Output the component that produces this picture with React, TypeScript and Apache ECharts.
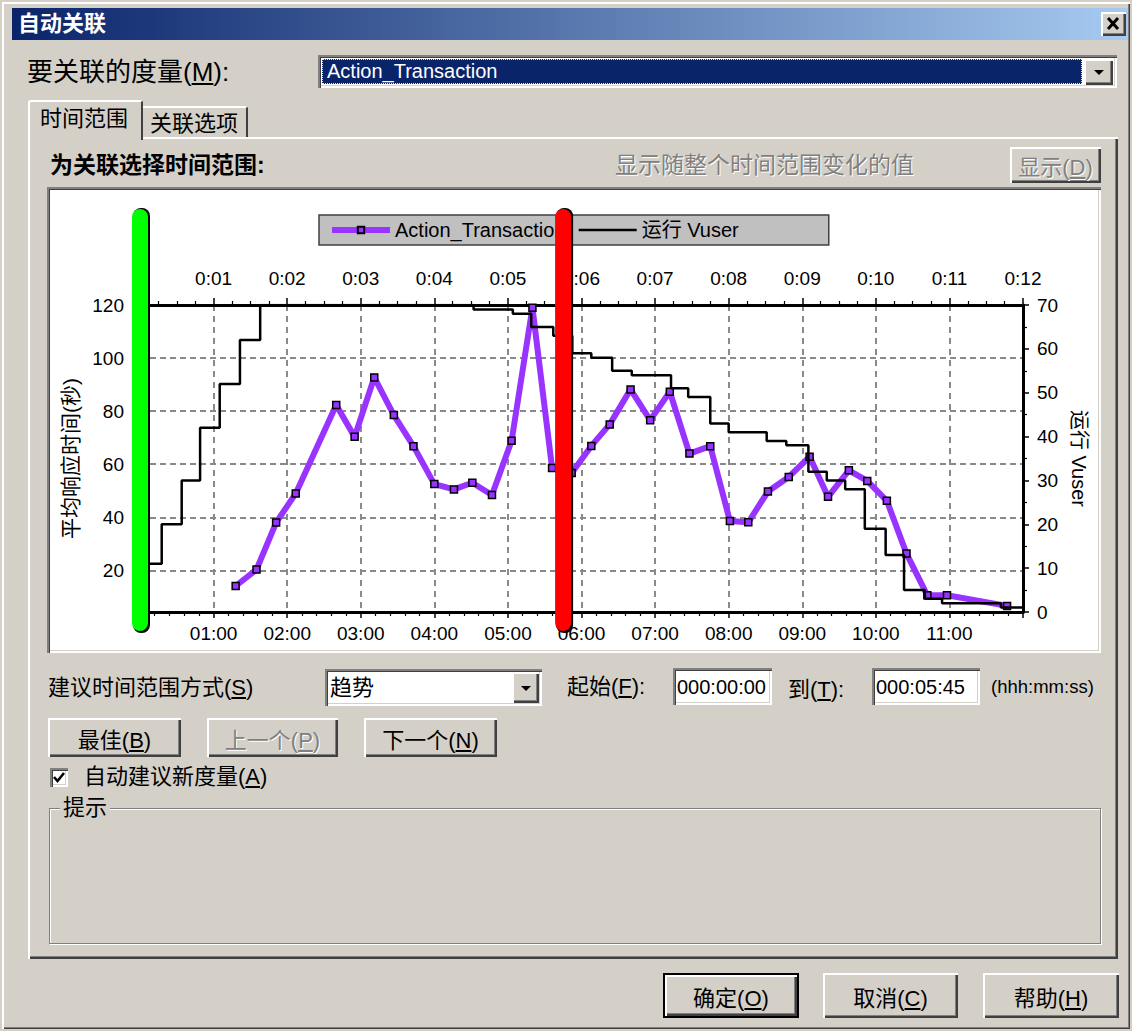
import React, { useEffect, useRef } from 'react';
import * as echarts from 'echarts';

// ---------------- data ----------------
const actionSeconds = [78, 95, 111, 127, 160, 175, 191, 207, 223, 240, 256, 271, 287, 303, 320, 336, 352, 368, 383, 400, 416, 432, 448, 465, 481, 496, 512, 529, 546, 561, 578, 593, 609, 625, 642, 658, 707];
const actionValues = [14.1, 20.3, 38.0, 49.0, 82.3, 70.3, 92.7, 78.5, 66.8, 52.5, 50.5, 53.0, 48.4, 68.8, 119.0, 58.6, 56.7, 66.9, 75.0, 88.2, 76.6, 87.3, 64.0, 66.8, 38.6, 38.1, 49.7, 55.2, 62.8, 47.7, 57.7, 53.7, 46.2, 26.3, 10.6, 10.6, 6.6];

const vuserSeconds = [0, 17.7, 34, 49, 65, 81.5, 98, 272, 304, 319, 337, 352.5, 368, 385, 401, 433, 447, 465, 480, 511, 527, 545, 560, 575, 591, 608, 623, 640, 654, 702, 720];
const vuserValues = [11, 20, 30, 42, 52, 62, 70, 69, 68, 65, 63, 59, 58, 55, 54, 51, 49, 43, 41, 39, 38, 32, 30, 28, 19, 13, 5, 3, 2, 1, 1];

const bottomTickLabels = ['01:00', '02:00', '03:00', '04:00', '05:00', '06:00', '07:00', '08:00', '09:00', '10:00', '11:00'];
const topTickLabels = ['0:01', '0:02', '0:03', '0:04', '0:05', '0:06', '0:07', '0:08', '0:09', '0:10', '0:11', '0:12'];
const leftTickValues = [20, 40, 60, 80, 100, 120];
const rightTickLabels = ['0', '10', '20', '30', '40', '50', '60', '70'];

const rangeStart = '000:00:00';
const rangeEnd = '000:05:45';

const toSec = (s: string) => {
  const [h, m, sec] = s.split(':').map(Number);
  return h * 3600 + m * 60 + sec;
};

const CHART_FONT = '"Liberation Sans", Arial, "Noto Sans CJK SC", sans-serif';
const UI_FONT = '"Liberation Sans", Arial, "Noto Sans CJK SC", sans-serif';
const BG = '#d4d0c8';
const raised = 'inset 2px 2px 0 #ffffff, inset -2px -2px 0 #404040, inset -3px -3px 0 #808080';
const sunken = 'inset 2px 2px 0 #808080, inset 3px 3px 0 #404040, inset -2px -2px 0 #ffffff, inset -3px -3px 0 #d4d0c8';
const disabledText = { color: '#808080', textShadow: '1px 1px 0 #ffffff' };

function Chart() {
  const ref = useRef<HTMLDivElement>(null);
  useEffect(() => {
    const chart = echarts.init(ref.current!, null, { renderer: 'svg' });
    const vDash = { type: [6, 5], color: '#8a8a8a', width: 2 };
    chart.setOption({
      animation: false,
      textStyle: { fontFamily: CHART_FONT },
      grid: { left: 90, right: 75, top: 115, bottom: 38, outerBoundsMode: 'none' },
      legend: {
        left: 269,
        top: 25,
        padding: [5, 90, 5, 10],
        backgroundColor: '#c0c0c0',
        borderColor: '#404040',
        borderWidth: 1.5,
        borderRadius: 0,
        itemGap: 12,
        itemWidth: 58,
        itemHeight: 8,
        selectedMode: false,
        lineStyle: { width: 'inherit' },
        textStyle: { fontSize: 20, color: '#000', fontFamily: CHART_FONT },
        data: [
          { name: 'Action_Transaction' },
          { name: '运行 Vuser', itemStyle: { color: 'rgba(0,0,0,0)', borderWidth: 0, opacity: 0 } },
        ],
      },
      xAxis: [
        {
          type: 'value',
          position: 'bottom',
          min: 0,
          max: 720,
          interval: 60,
          axisLine: { show: true, onZero: false, lineStyle: { color: '#000', width: 3 } },
          axisTick: { show: true, length: 6, lineStyle: { color: '#000', width: 1.5 } },
          minorTick: { show: true, splitNumber: 5, length: 4, lineStyle: { color: '#000', width: 1.2 } },
          axisLabel: {
            fontSize: 19,
            color: '#000',
            margin: 12,
            fontFamily: CHART_FONT,
            formatter: (v: number) => bottomTickLabels[Math.round(v / 60) - 1] ?? '',
          },
          splitLine: { show: true, lineStyle: vDash },
        },
        {
          type: 'value',
          position: 'top',
          min: 0,
          max: 720,
          interval: 60,
          axisLine: { show: true, onZero: false, lineStyle: { color: '#000', width: 3 } },
          axisTick: { show: true, length: 7, lineStyle: { color: '#000', width: 1.5 } },
          minorTick: { show: true, splitNumber: 4, length: 4, lineStyle: { color: '#000', width: 1.2 } },
          axisLabel: {
            fontSize: 19,
            color: '#000',
            margin: 17,
            fontFamily: CHART_FONT,
            showMaxLabel: true,
            formatter: (v: number) => topTickLabels[Math.round(v / 60) - 1] ?? '',
          },
          splitLine: { show: false },
        },
      ],
      yAxis: [
        {
          type: 'value',
          position: 'left',
          min: 4.3,
          max: 120,
          axisLine: { show: true, onZero: false, lineStyle: { color: '#000', width: 1 } },
          axisTick: { show: false, customValues: leftTickValues },
          axisLabel: { customValues: leftTickValues, fontSize: 19, color: '#000', margin: 16, fontFamily: CHART_FONT },
          splitLine: { show: true, lineStyle: { type: [6, 4], color: '#8a8a8a', width: 2 } },
          name: '平均响应时间(秒)',
          nameLocation: 'middle',
          nameRotate: 90,
          nameGap: 57,
          nameTextStyle: { fontSize: 21, color: '#000', fontFamily: CHART_FONT },
        },
        {
          type: 'value',
          position: 'right',
          min: 0,
          max: 70,
          interval: 10,
          axisLine: { show: true, onZero: false, lineStyle: { color: '#000', width: 3 } },
          axisTick: { show: true, length: 6, lineStyle: { color: '#000', width: 1.5 } },
          minorTick: { show: true, splitNumber: 2, length: 4, lineStyle: { color: '#000', width: 1.2 } },
          axisLabel: {
            fontSize: 19,
            color: '#000',
            margin: 14,
            fontFamily: CHART_FONT,
            formatter: (v: number) => rightTickLabels[Math.round(v / 10)] ?? '',
          },
          splitLine: { show: false },
          name: '运行 Vuser',
          nameLocation: 'middle',
          nameRotate: -90,
          nameGap: 43,
          nameTextStyle: { fontSize: 20, color: '#000', fontFamily: CHART_FONT },
        },
      ],
      series: [
        {
          name: 'Action_Transaction',
          type: 'line',
          xAxisIndex: 0,
          yAxisIndex: 0,
          data: actionSeconds.map((s, i) => [s, actionValues[i]]),
          lineStyle: { color: '#9933ff', width: 6 },
          symbol: 'rect',
          symbolSize: 7,
          showAllSymbol: true,
          itemStyle: { color: '#9933ff', borderColor: '#000', borderWidth: 1.5 },
          z: 3,
        },
        {
          name: '运行 Vuser',
          type: 'line',
          step: 'end',
          xAxisIndex: 0,
          yAxisIndex: 1,
          data: vuserSeconds.map((s, i) => [s, vuserValues[i]]),
          lineStyle: { color: '#000', width: 2.5 },
          itemStyle: { color: '#000' },
          symbol: 'none',
          z: 4,
        },
      ],
    });

    const markers = [
      { sec: toSec(rangeStart), color: '#00ff00' },
      { sec: toSec(rangeEnd), color: '#ff0000' },
    ];
    const graphic: any[] = [];
    markers.forEach((m) => {
      const px = chart.convertToPixel({ xAxisIndex: 0 }, m.sec) as number;
      graphic.push({
        type: 'rect',
        z: 100,
        shape: { x: px - 7, y: 18, width: 17, height: 425, r: 8 },
        style: { fill: '#000' },
      });
      graphic.push({
        type: 'rect',
        z: 101,
        shape: { x: px - 8, y: 19, width: 16, height: 422, r: 8 },
        style: { fill: m.color },
      });
    });
    chart.setOption({ graphic });

    return () => chart.dispose();
  }, []);
  return <div ref={ref} style={{ position: 'absolute', left: 50, top: 190, width: 1048, height: 460 }} />;
}

function Abs({ x, y, w, h, style, children }: any) {
  return (
    <div style={{ position: 'absolute', left: x, top: y, width: w, height: h, boxSizing: 'border-box', ...style }}>
      {children}
    </div>
  );
}

function Txt({ x, cy, size = 22, h = 30, style, children }: any) {
  return (
    <div
      style={{
        position: 'absolute',
        left: x,
        top: cy - h / 2,
        height: h,
        lineHeight: `${h}px`,
        fontSize: size,
        whiteSpace: 'nowrap',
        ...style,
      }}
    >
      {children}
    </div>
  );
}

function Button({ x, y, w, h, disabled, def, children }: any) {
  const shadow = def
    ? 'inset 0 0 0 2px #000, inset 4px 4px 0 #ffffff, inset -4px -4px 0 #404040, inset -5px -5px 0 #808080'
    : raised;
  return (
    <Abs
      x={x}
      y={y}
      w={w}
      h={h}
      style={{
        background: BG,
        boxShadow: shadow,
        display: 'flex',
        alignItems: 'center',
        justifyContent: 'center',
        fontSize: 22,
        whiteSpace: 'nowrap',
        ...(disabled ? disabledText : { color: '#000' }),
      }}
    >
      <span>{children}</span>
    </Abs>
  );
}

function DropBtn({ x, y, w, h }: any) {
  return (
    <Abs x={x} y={y} w={w} h={h} style={{ background: BG, boxShadow: raised }}>
      <div
        style={{
          position: 'absolute',
          left: w / 2 - 5,
          top: h / 2 - 2,
          width: 0,
          height: 0,
          borderLeft: '5px solid transparent',
          borderRight: '5px solid transparent',
          borderTop: '5px solid #000',
        }}
      />
    </Abs>
  );
}

export default function App() {
  return (
    <div
      style={{
        position: 'absolute',
        left: 0,
        top: 0,
        width: 1132,
        height: 1031,
        background: BG,
        fontFamily: UI_FONT,
        color: '#000',
        overflow: 'hidden',
      }}
    >
      {/* window frame */}
      <Abs
        x={2}
        y={2}
        w={1128}
        h={1027}
        style={{ boxShadow: 'inset 2px 2px 0 #ffffff, inset -1px -1px 0 #404040, inset -2px -2px 0 #808080' }}
      />
      {/* title bar */}
      <Abs x={12} y={8} w={1116} h={32} style={{ background: 'linear-gradient(to right, #0a246a, #a6caf0)' }} />
      <Txt x={18} cy={24} size={22} h={32} style={{ color: '#fff', fontWeight: 'bold' }}>
        自动关联
      </Txt>
      <Abs x={1101} y={12} w={25} h={24} style={{ background: BG, boxShadow: raised }}>
        <svg width="25" height="24" style={{ position: 'absolute', left: 0, top: 0 }}>
          <line x1="7" y1="6" x2="17" y2="17" stroke="#000" strokeWidth="3" />
          <line x1="17" y1="6" x2="7" y2="17" stroke="#000" strokeWidth="3" />
        </svg>
      </Abs>

      {/* measure to correlate */}
      <Txt x={27} cy={72} size={26} h={34}>
        要关联的度量(<u>M</u>):
      </Txt>
      <Abs x={318} y={55} w={799} h={33} style={{ background: '#fff', boxShadow: sunken }} />
      <Abs x={322} y={59} w={760} h={25} style={{ background: '#0a246a', outline: '1px dotted #f3e9a0', outlineOffset: -1 }} />
      <Txt x={327} cy={71} size={20} h={25} style={{ color: '#fff' }}>
        Action_Transaction
      </Txt>
      <DropBtn x={1084} y={59} w={29} h={26} />

      {/* tabs and panel */}
      <Abs
        x={143}
        y={106}
        w={105}
        h={33}
        style={{ background: BG, borderTop: '2px solid #fff', borderRight: '2px solid #404040', borderTopRightRadius: 3 }}
      />
      <Txt x={150} cy={124} size={22}>
        关联选项
      </Txt>
      <Abs
        x={28}
        y={137}
        w={1090}
        h={822}
        style={{ boxShadow: 'inset 2px 2px 0 #ffffff, inset -2px -2px 0 #404040, inset -3px -3px 0 #808080' }}
      />
      <Abs
        x={28}
        y={100}
        w={115}
        h={40}
        style={{
          background: BG,
          borderTop: '2px solid #fff',
          borderLeft: '2px solid #fff',
          borderRight: '2px solid #404040',
          borderTopLeftRadius: 3,
          borderTopRightRadius: 3,
        }}
      />
      <Txt x={40} cy={119} size={22}>
        时间范围
      </Txt>

      <Txt x={50} cy={165} size={23} style={{ fontWeight: 'bold' }}>
        为关联选择时间范围:
      </Txt>
      <Txt x={615} cy={165} size={23} style={disabledText}>
        显示随整个时间范围变化的值
      </Txt>
      <Button x={1010} y={147} w={91} h={36} disabled>
        显示(<u>D</u>)
      </Button>

      {/* chart box */}
      <Abs x={47} y={187} w={1054} h={466} style={{ background: '#fff', boxShadow: sunken }} />
      <Chart />

      {/* suggestion row */}
      <Txt x={48} cy={688} size={22}>
        建议时间范围方式(<u>S</u>)
      </Txt>
      <Abs x={325} y={669} w={217} h={37} style={{ background: '#fff', boxShadow: sunken }} />
      <Txt x={330} cy={688} size={22}>
        趋势
      </Txt>
      <DropBtn x={512} y={672} w={27} h={31} />

      <Txt x={567} cy={687} size={22}>
        起始(<u>F</u>):
      </Txt>
      <Abs x={673} y={668} w={99} h={37} style={{ background: '#fff', boxShadow: sunken }} />
      <Txt x={677} cy={687} size={20}>
        {rangeStart}
      </Txt>
      <Txt x={788} cy={690} size={22}>
        到(<u>T</u>):
      </Txt>
      <Abs x={872} y={668} w={108} h={37} style={{ background: '#fff', boxShadow: sunken }} />
      <Txt x={876} cy={687} size={20}>
        {rangeEnd}
      </Txt>
      <Txt x={991} cy={687} size={18.5}>
        (hhh:mm:ss)
      </Txt>

      {/* navigation buttons */}
      <Button x={48} y={718} w={133} h={39}>
        最佳(<u>B</u>)
      </Button>
      <Button x={207} y={718} w={131} h={39} disabled>
        上一个(<u>P</u>)
      </Button>
      <Button x={364} y={718} w={133} h={39}>
        下一个(<u>N</u>)
      </Button>

      {/* checkbox */}
      <Abs x={50} y={768} w={18} h={19} style={{ background: '#fff', boxShadow: sunken }}>
        <svg width="18" height="19" style={{ position: 'absolute', left: 0, top: 0 }}>
          <polyline points="4,9 7.5,13 14,5" fill="none" stroke="#000" strokeWidth="2.6" />
        </svg>
      </Abs>
      <Txt x={84} cy={777} size={22}>
        自动建议新度量(<u>A</u>)
      </Txt>

      {/* hint group box */}
      <Abs
        x={49}
        y={808}
        w={1052}
        h={136}
        style={{ border: '1px solid #808080', boxShadow: 'inset 1px 1px 0 #ffffff, 1px 1px 0 #ffffff' }}
      />
      <Txt x={60} cy={808} size={22} style={{ background: BG, padding: '0 3px' }}>
        提示
      </Txt>

      {/* dialog buttons */}
      <Button x={663} y={973} w={136} h={45} def>
        确定(<u>O</u>)
      </Button>
      <Button x={823} y={973} w={135} h={45}>
        取消(<u>C</u>)
      </Button>
      <Button x={983} y={973} w={136} h={45}>
        帮助(<u>H</u>)
      </Button>
    </div>
  );
}
